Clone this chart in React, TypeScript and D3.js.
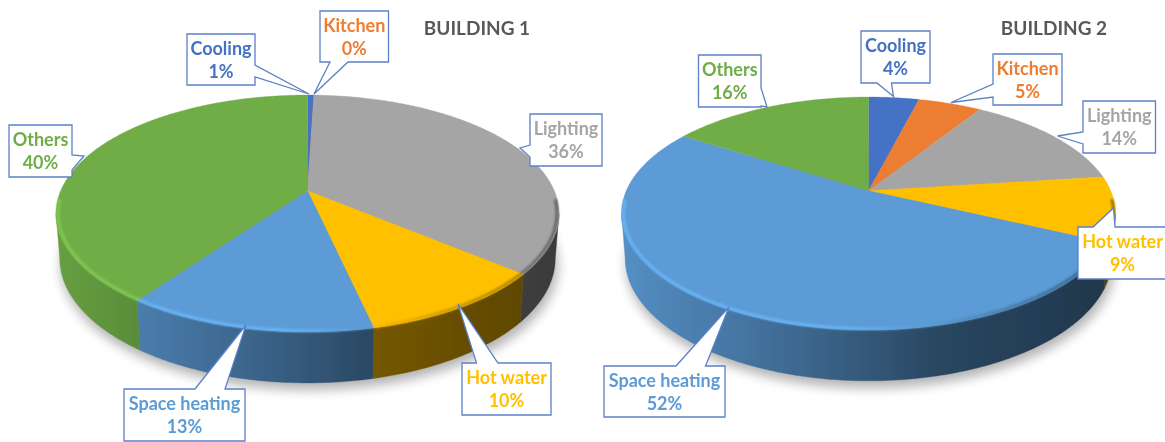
import React from "react";
import * as d3 from "d3";

const categories = ["Cooling", "Kitchen", "Lighting", "Hot water", "Space heating", "Others"];
const colors = ["#4472C4", "#ED7D31", "#A5A5A5", "#FFC000", "#5B9BD5", "#70AD47"];
const building1Values = [0.5, 0, 35.6, 10.4, 13.4, 40.1];
const building2Values = [4, 5, 14, 9, 52, 16];
const titles = ["BUILDING 1", "BUILDING 2"];

type Side = "top" | "right" | "bottom" | "left";
type Callout = { box: number[]; side: Side; base: number[]; tip: number[] };

const layout1 = {
  cx: 307.5, top: 95, apex: 190.7, bottom: 332, halfWidth: 251.5, depth: 45, titleX: 477,
  callouts: [
    { box: [187, 34, 255, 85], side: "right", base: [65, 77], tip: [309, 94] },
    { box: [320, 11, 388.5, 62], side: "bottom", base: [330, 348], tip: [314, 94] },
    { box: [530, 114, 602, 166], side: "left", base: [145, 157], tip: [520, 148] },
    { box: [462, 363, 551, 415], side: "top", base: [476.5, 498], tip: [458, 304] },
    { box: [124, 389, 245, 441], side: "top", base: [195, 225], tip: [246, 325] },
    { box: [9, 125, 72, 177], side: "right", base: [155, 170], tip: [84, 156] },
  ] as Callout[],
};
const layout2 = {
  cx: 868.5, top: 97, apex: 190.7, bottom: 330, halfWidth: 247, depth: 45, titleX: 1054,
  callouts: [
    { box: [861, 31, 930, 83], side: "bottom", base: [877, 891.5], tip: [893.5, 96.5] },
    { box: [993, 54, 1062, 105], side: "left", base: [84, 97], tip: [951, 102.5] },
    { box: [1083, 101, 1155.5, 153], side: "left", base: [132, 144], tip: [1057.5, 136] },
    { box: [1078, 227, 1167, 279], side: "top", base: [1093, 1115], tip: [1113.5, 208] },
    { box: [604, 366, 725, 417], side: "top", base: [676, 705.5], tip: [729, 307] },
    { box: [698.5, 55, 761, 107], side: "right", base: [88, 106], tip: [767, 107] },
  ] as Callout[],
};

const shadeAt = d3.scaleLinear().domain([0, 0.35, 0.65, 1]).range([0.92, 0.68, 0.45, 0.35]);
const FONT = "Lato, Carlito, Calibri, sans-serif";

function scaleColor(c: string, k: number) {
  const r = d3.rgb(c);
  return d3.rgb(r.r * k, r.g * k, r.b * k).formatHex();
}

function calloutPath(c: Callout) {
  const [x0, y0, x1, y1] = c.box;
  const [a, b] = c.base;
  const [tx, ty] = c.tip;
  const p = d3.path();
  p.moveTo(x0, y0);
  if (c.side === "top") { p.lineTo(a, y0); p.lineTo(tx, ty); p.lineTo(b, y0); }
  p.lineTo(x1, y0);
  if (c.side === "right") { p.lineTo(x1, a); p.lineTo(tx, ty); p.lineTo(x1, b); }
  p.lineTo(x1, y1);
  if (c.side === "bottom") { p.lineTo(b, y1); p.lineTo(tx, ty); p.lineTo(a, y1); }
  p.lineTo(x0, y1);
  if (c.side === "left") { p.lineTo(x0, b); p.lineTo(tx, ty); p.lineTo(x0, a); }
  p.closePath();
  return p.toString();
}

function Pie3D({ id, values, title, l }: { id: string; values: number[]; title: string; l: typeof layout1 }) {
  // Projective map of the flat disc, so slice proportions follow the perspective.
  const b = l.apex;
  const q = (2 * b - l.top - l.bottom) / (l.bottom - l.top);
  const a = l.bottom * (1 + q) - b;
  const R = l.halfWidth * Math.sqrt(1 - q * q);
  const project = (ang: number, rad = 1) => {
    const u = Math.sin(ang) * rad, v = -Math.cos(ang) * rad;
    const w = 1 + q * v;
    return [l.cx + (R * u) / w, (a * v + b) / w];
  };
  const midY = (a * -q + b) / (1 - q * q);
  const lower = ([x, y]: number[]) => [l.cx + (x - l.cx) * 0.985, midY + l.depth + (y - midY) * 1.05];
  const left = l.cx - l.halfWidth, width = 2 * l.halfWidth;
  const visLo = Math.acos(q);
  const visHi = 2 * Math.PI - visLo;
  const pie = d3.pie<number>().sort(null).value((d) => d);
  const arcs = pie(values);
  const sample = (s: number, e: number) => {
    const n = Math.max(2, Math.ceil((e - s) / 0.01));
    return d3.range(n + 1).map((i) => s + ((e - s) * i) / n);
  };
  const line = d3.line();
  const slices = arcs.map((d) => {
    const pts = [[l.cx, l.apex], ...sample(d.startAngle, d.endAngle).map((t) => project(t))];
    return line(pts as [number, number][]) + "Z";
  });
  const sides = arcs.map((d) => {
    const s = Math.max(d.startAngle, visLo), e = Math.min(d.endAngle, visHi);
    if (e <= s) return null;
    const topEdge = sample(s, e).map((t) => project(t));
    const all = [...topEdge, ...topEdge.slice().reverse().map(lower)];
    return line(all as [number, number][]) + "Z";
  });
  const rims = arcs.map((d) => {
    const s = Math.max(d.startAngle, visLo - 0.12), e = Math.min(d.endAngle, visHi + 0.12);
    if (e <= s) return null;
    return line(sample(s, e).map((t) => project(t, 0.992)) as [number, number][]);
  });
  return (
    <g>
      <defs>
        {colors.map((col, i) => (
          <React.Fragment key={i}>
            <linearGradient id={`${id}-side-${i}`} gradientUnits="userSpaceOnUse" x1={left} x2={left + width} y1={0} y2={0}>
              {[0, 0.35, 0.65, 1].map((t) => (
                <stop key={t} offset={t} stopColor={scaleColor(col, shadeAt(t))} />
              ))}
            </linearGradient>
            <linearGradient id={`${id}-rim-${i}`} gradientUnits="userSpaceOnUse" x1={left} x2={left + width} y1={0} y2={0}>
              <stop offset={0} stopColor={d3.rgb(col).brighter(0.4).formatHex()} />
              <stop offset={0.45} stopColor={d3.rgb(col).brighter(0.4).formatHex()} />
              <stop offset={0.62} stopColor={col} />
              <stop offset={0.8} stopColor={scaleColor(col, 0.78)} />
              <stop offset={1} stopColor={scaleColor(col, 0.6)} />
            </linearGradient>
          </React.Fragment>
        ))}
      </defs>
      <ellipse
        cx={l.cx + 2}
        cy={midY + l.depth + 7}
        rx={l.halfWidth - 3}
        ry={(l.bottom - l.top) / 2 + 6}
        fill="#000"
        opacity={0.3}
        filter="url(#soft)"
      />
      {sides.map((p, i) =>
        p ? <path key={i} d={p} fill={`url(#${id}-side-${i})`} stroke={`url(#${id}-side-${i})`} strokeWidth={0.4} /> : null
      )}
      {slices.map((p, i) => (
        <path key={i} d={p} fill={colors[i]} stroke={colors[i]} strokeWidth={0.3} />
      ))}
      <g filter="url(#rimBlur)">
        {rims.map((p, i) =>
          p ? <path key={i} d={p} fill="none" stroke={`url(#${id}-rim-${i})`} strokeWidth={3} /> : null
        )}
      </g>
      {l.callouts.map((c, i) => {
        const mx = (c.box[0] + c.box[2]) / 2;
        return (
          <g key={i}>
            <path d={calloutPath(c)} fill="#fff" stroke="#5B80C8" strokeWidth={1.3} />
            <text x={mx} y={c.box[1] + 21} textAnchor="middle" fontFamily={FONT} fontWeight={700} fontSize={18} fill={colors[i]}>
              {categories[i]}
            </text>
            <text x={mx} y={c.box[1] + 44} textAnchor="middle" fontFamily={FONT} fontWeight={700} fontSize={18} fill={colors[i]}>
              {`${Math.round(values[i])}%`}
            </text>
          </g>
        );
      })}
      <text x={l.titleX} y={35} textAnchor="middle" fontFamily={FONT} fontWeight={700} fontSize={19} fill="#595959">
        {title}
      </text>
    </g>
  );
}

export default function App() {
  return (
    <svg width={1165} height={442} style={{ position: "absolute", left: 0, top: 0, display: "block", background: "#fff" }}>
      <defs>
        <filter id="soft" x="-20%" y="-30%" width="140%" height="160%">
          <feGaussianBlur stdDeviation={6} />
        </filter>
        <filter id="rimBlur" x="-5%" y="-5%" width="110%" height="110%">
          <feGaussianBlur stdDeviation={0.9} />
        </filter>
        <filter id="photo" x="0" y="0" width="100%" height="100%">
          <feGaussianBlur stdDeviation={0.4} />
        </filter>
      </defs>
      <g filter="url(#photo)">
        <rect width={1165} height={442} fill="#fff" />
        <Pie3D id="b1" values={building1Values} title={titles[0]} l={layout1} />
        <Pie3D id="b2" values={building2Values} title={titles[1]} l={layout2} />
      </g>
    </svg>
  );
}
